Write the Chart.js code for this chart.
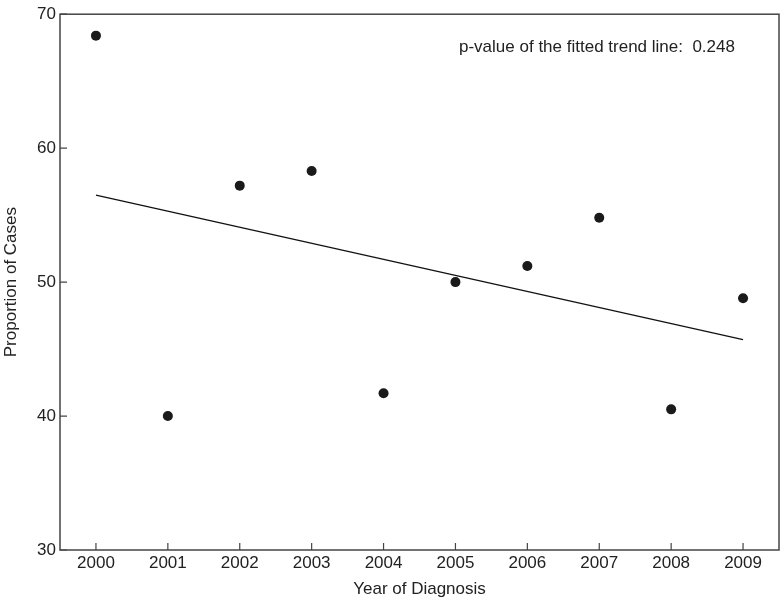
<!DOCTYPE html>
<html>
<head>
<meta charset="utf-8">
<script src="https://cdn.jsdelivr.net/npm/chart.js@4/dist/chart.umd.min.js"></script>
<style>
  html, body { margin: 0; padding: 0; background: #fff; }
  #wrap { width: 784px; height: 601px; position: relative; }
</style>
</head>
<body>
<div id="wrap"><canvas id="trendChart"></canvas></div>
<script>
// years on the x axis
const years = ['2000', '2001', '2002', '2003', '2004', '2005', '2006', '2007', '2008', '2009'];

// observed proportion of cases per year
const proportions = [68.4, 40.0, 57.2, 58.3, 41.7, 50.0, 51.2, 54.8, 40.5, 48.8];

// fitted trend line, only the two ends are needed
const trendLine = [56.5, null, null, null, null, null, null, null, null, 45.7];

const yTicks = [30, 40, 50, 60, 70];
const pValueText = 'p-value of the fitted trend line:  0.248';

const axisColor = '#444';
const textColor = '#222';
const fontFamily = '"Liberation Sans", Arial, sans-serif';
const fontSize = 17;

// frame round the plot, inside ticks and the p-value note
const framePlugin = {
  id: 'frame',
  afterDatasetsDraw(chart) {
    const ctx = chart.ctx;
    const a = chart.chartArea;
    ctx.save();
    ctx.strokeStyle = axisColor;
    ctx.lineWidth = 1.5;
    ctx.strokeRect(a.left, a.top, a.right - a.left, a.bottom - a.top);

    // tick marks pointing into the plot
    ctx.lineWidth = 1.2;
    ctx.beginPath();
    chart.scales.x.ticks.forEach((t, i) => {
      const px = chart.scales.x.getPixelForTick(i);
      ctx.moveTo(px, a.bottom);
      ctx.lineTo(px, a.bottom - 7);
    });
    yTicks.forEach(v => {
      const py = chart.scales.y.getPixelForValue(v);
      ctx.moveTo(a.left, py);
      ctx.lineTo(a.left + 7, py);
    });
    ctx.stroke();

    ctx.fillStyle = textColor;
    ctx.font = fontSize + 'px ' + fontFamily;
    ctx.textAlign = 'left';
    ctx.textBaseline = 'middle';
    ctx.fillText(pValueText, 459, 47);
    ctx.restore();
  }
};

const data = {
  labels: years,
  datasets: [{
    label: 'Proportion of Cases',
    data: proportions,
    showLine: false,
    pointRadius: 5,
    pointHoverRadius: 5,
    pointBackgroundColor: '#1a1a1a',
    pointBorderColor: '#1a1a1a',
    pointBorderWidth: 0
  }, {
    label: 'Trend',
    data: trendLine,
    spanGaps: true,
    borderColor: '#111',
    borderWidth: 1.3,
    pointRadius: 0,
    tension: 0
  }]
};

const config = {
  type: 'line',
  data: data,
  plugins: [framePlugin],
  options: {
    responsive: true,
    maintainAspectRatio: false,
    animation: false,
    layout: { padding: { top: 10, right: 5, bottom: 0, left: 0 } },
    plugins: {
      legend: { display: false },
      tooltip: { enabled: false }
    },
    scales: {
      x: {
        type: 'category',
        offset: true,
        grid: { display: false, drawTicks: false },
        border: { display: false },
        ticks: {
          color: textColor,
          font: { family: fontFamily, size: fontSize },
          padding: 3,
          maxRotation: 0
        },
        title: {
          display: true,
          text: 'Year of Diagnosis',
          color: textColor,
          font: { family: fontFamily, size: fontSize },
          padding: { top: 0, bottom: 1 }
        },
        afterFit(scale) { scale.height = 51; }
      },
      y: {
        min: 30,
        max: 70,
        afterBuildTicks(scale) { scale.ticks = yTicks.map(v => ({ value: v })); },
        grid: { display: false, drawTicks: false },
        border: { display: false },
        ticks: {
          color: textColor,
          font: { family: fontFamily, size: fontSize },
          padding: 4
        },
        title: {
          display: true,
          text: 'Proportion of Cases',
          color: textColor,
          font: { family: fontFamily, size: fontSize },
          padding: { top: 1, bottom: 0 }
        },
        afterFit(scale) { scale.width = 60; }
      }
    }
  }
};

const trendChart = new Chart(document.getElementById('trendChart'), config);
</script>
</body>
</html>
